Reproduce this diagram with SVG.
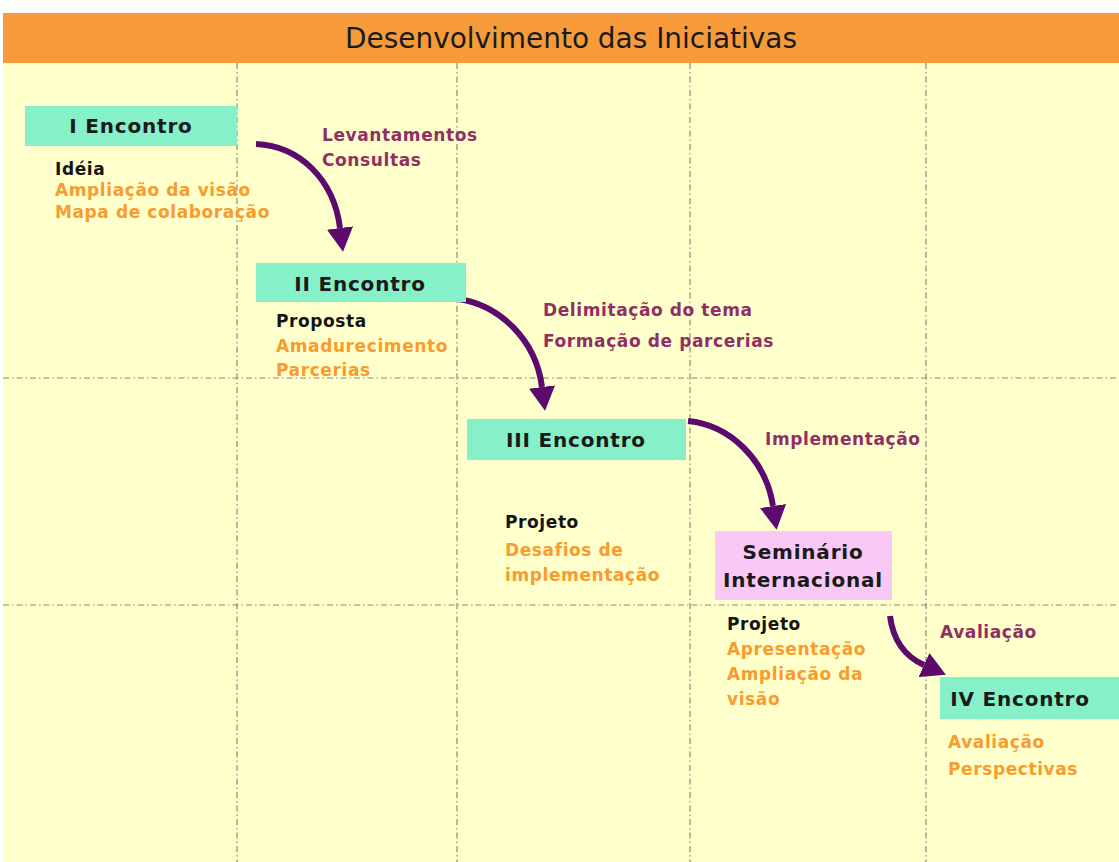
<svg xmlns="http://www.w3.org/2000/svg" width="1119" height="862" viewBox="0 0 1119 862">
  <style>
    .grid { stroke: #8a8a80; stroke-width: 1.2; stroke-dasharray: 6 3 1.5 3; fill: none; }
    .box-teal { fill: #86f0c9; }
    .box-pink { fill: #f9c8f6; }
    .node-label { font-family: "DejaVu Sans", sans-serif; font-weight: bold; font-size: 20px; letter-spacing: 0.8px; fill: #1a1a1a; text-anchor: middle; }
    .t { font-family: "DejaVu Sans", sans-serif; font-weight: bold; font-size: 17px; letter-spacing: 0.6px; }
    .blk { fill: #141414; }
    .org { fill: #f99b2f; }
    .pur { fill: #8f2f63; }
    .arrow { fill: none; stroke: #5c0a6e; stroke-width: 6; marker-end: url(#ah); }
    .title { font-family: "DejaVu Sans", sans-serif; font-size: 28px; fill: #1a1a1a; text-anchor: middle; }
  </style>
  <defs>
    <marker id="ah" viewBox="0 0 4 4.4" refX="0" refY="2.2" markerWidth="4" markerHeight="4.4" orient="auto" markerUnits="strokeWidth">
      <path d="M0,0 L4,2.2 L0,4.4 Z" fill="#5c0a6e"/>
    </marker>
  </defs>

  <rect x="0" y="0" width="1119" height="862" fill="#ffffff"/>
  <rect x="3" y="13" width="1116" height="849" fill="#ffffcc"/>

  <g id="header">
    <rect x="3" y="13" width="1116" height="50" fill="#f79a3a"/>
    <text class="title" x="571" y="48" textLength="452" lengthAdjust="spacingAndGlyphs">Desenvolvimento das Iniciativas</text>
  </g>

  <g id="grid">
    <line class="grid" x1="237" y1="63" x2="237" y2="862"/>
    <line class="grid" x1="457" y1="63" x2="457" y2="862"/>
    <line class="grid" x1="690" y1="63" x2="690" y2="862"/>
    <line class="grid" x1="926" y1="63" x2="926" y2="862"/>
    <line class="grid" x1="3" y1="378" x2="1119" y2="378"/>
    <line class="grid" x1="3" y1="605" x2="1119" y2="605"/>
  </g>

  <g id="connectors">
    <path class="arrow" d="M256,144 C300,146 334,180 340,228"/>
    <path class="arrow" d="M458,299 C500,305 536,340 542,387"/>
    <path class="arrow" d="M688,421 C730,425 766,460 773,506"/>
    <path class="arrow" d="M890,616 C893,640 904,656 924,665"/>
  </g>

  <g id="node-i">
    <rect class="box-teal" x="25" y="106" width="212" height="40"/>
    <text class="node-label" x="131" y="133">I Encontro</text>
    <text class="t blk" x="55" y="175">Idéia</text>
    <text class="t org" x="55" y="196">Ampliação da visão</text>
    <text class="t org" x="55" y="218">Mapa de colaboração</text>
  </g>

  <g id="label-1">
    <text class="t pur" x="322" y="141">Levantamentos</text>
    <text class="t pur" x="322" y="166">Consultas</text>
  </g>

  <g id="node-ii">
    <rect class="box-teal" x="256" y="263" width="210" height="39"/>
    <text class="node-label" x="360" y="291">II Encontro</text>
    <text class="t blk" x="276" y="327">Proposta</text>
    <text class="t org" x="276" y="352">Amadurecimento</text>
    <text class="t org" x="276" y="376">Parcerias</text>
  </g>

  <g id="label-2">
    <text class="t pur" x="543" y="316">Delimitação do tema</text>
    <text class="t pur" x="543" y="347">Formação de parcerias</text>
  </g>

  <g id="node-iii">
    <rect class="box-teal" x="467" y="419" width="219" height="41"/>
    <text class="node-label" x="576" y="447">III Encontro</text>
    <text class="t blk" x="505" y="528">Projeto</text>
    <text class="t org" x="505" y="556">Desafios de</text>
    <text class="t org" x="505" y="581">implementação</text>
  </g>

  <g id="label-3">
    <text class="t pur" x="765" y="445">Implementação</text>
  </g>

  <g id="node-seminario">
    <rect class="box-pink" x="715" y="531" width="177" height="69"/>
    <text class="node-label" x="803" y="559">Seminário</text>
    <text class="node-label" x="803" y="587">Internacional</text>
    <text class="t blk" x="727" y="630">Projeto</text>
    <text class="t org" x="727" y="655">Apresentação</text>
    <text class="t org" x="727" y="680">Ampliação da</text>
    <text class="t org" x="727" y="705">visão</text>
  </g>

  <g id="label-4">
    <text class="t pur" x="940" y="638">Avaliação</text>
  </g>

  <g id="node-iv">
    <rect class="box-teal" x="940" y="677" width="179" height="42"/>
    <text class="node-label" x="1020" y="706">IV Encontro</text>
    <text class="t org" x="948" y="748">Avaliação</text>
    <text class="t org" x="948" y="775">Perspectivas</text>
  </g>
</svg>
